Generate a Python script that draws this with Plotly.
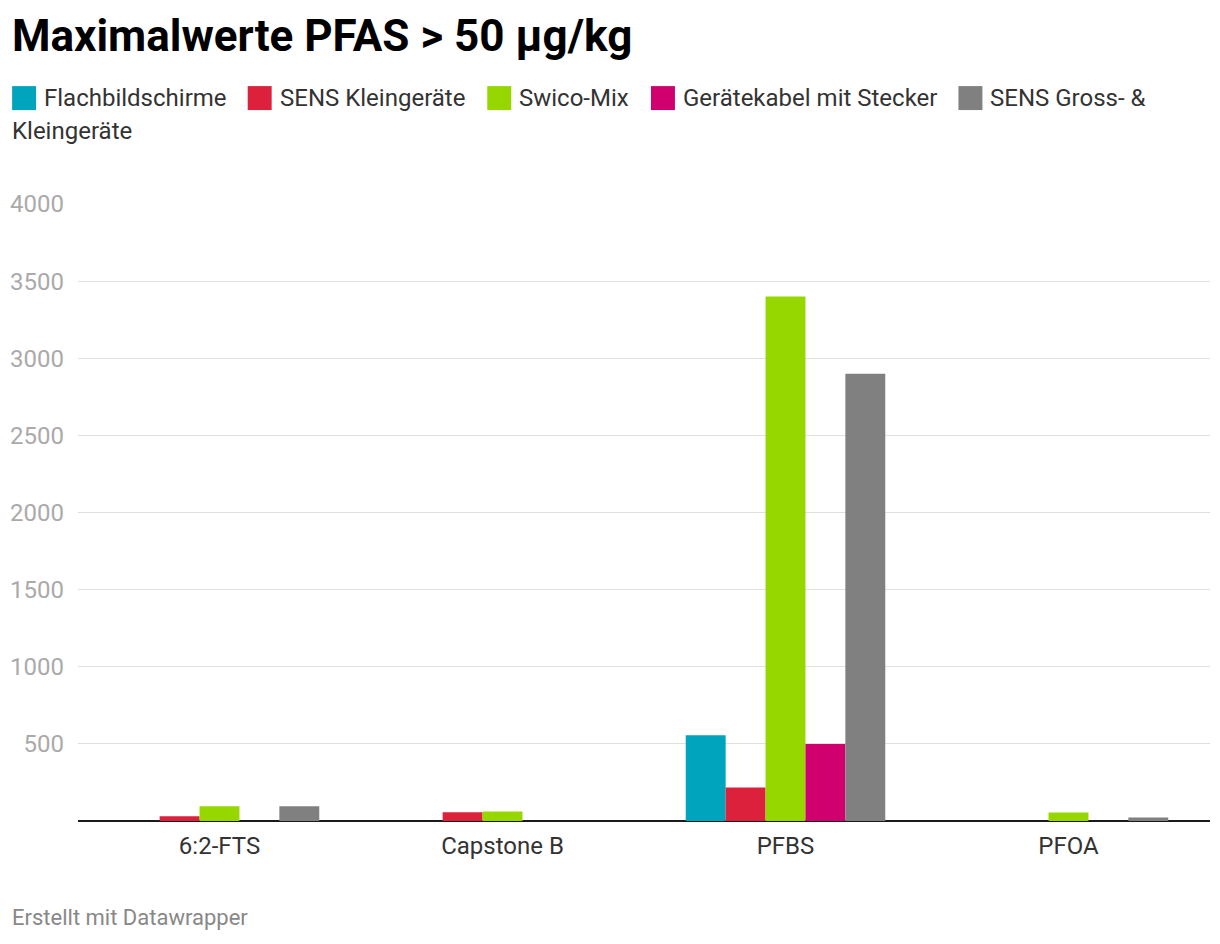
import plotly.graph_objects as go

categories = ["6:2-FTS", "Capstone B", "PFBS", "PFOA"]
series_names = ["Flachbildschirme", "SENS Kleingeräte", "Swico-Mix",
                "Gerätekabel mit Stecker", "SENS Gross- & Kleingeräte"]
flachbildschirme = [None, None, 556, None]
sens_klein = [30, 57, 217, None]
swico_mix = [95, 62, 3400, 55]
geraetekabel = [None, None, 500, None]
sens_gross_klein = [95, None, 2900, 23]
series_values = [flachbildschirme, sens_klein, swico_mix, geraetekabel, sens_gross_klein]
colors = ["#00a5bd", "#db213c", "#96d700", "#d1006f", "#808080"]
y_ticks = [500, 1000, 1500, 2000, 2500, 3000, 3500, 4000]

FONT = "Roboto"

fig = go.Figure()
for name, vals, col in zip(series_names, series_values, colors):
    fig.add_trace(go.Bar(x=categories, y=vals, name=name, marker_color=col,
                         marker_line_width=0, showlegend=False))

fig.update_layout(
    width=1220, height=944,
    margin=dict(l=76, r=10, t=204, b=122.5),
    paper_bgcolor="white", plot_bgcolor="white",
    barmode="group", bargap=0.295, bargroupgap=0,
    font=dict(family=FONT, size=24, color="#333333"),
    xaxis=dict(showgrid=False, ticks="", tickfont=dict(size=24, color="#333333"),
               showline=False, ticklabelstandoff=8),
    yaxis=dict(range=[0, 4000], tickvals=y_ticks, ticktext=[str(v) for v in y_ticks],
               showgrid=True, gridcolor="#e0e0e0", gridwidth=1,
               zeroline=True, zerolinecolor="#1a1a1a", zerolinewidth=2,
               tickfont=dict(size=24, color="#aaaaaa"), ticklabelstandoff=13,
               fixedrange=True),
    showlegend=False,
)

def fx(x):
    return (x - 76) / 1134

def fy(y):
    return (821.5 - y) / 617.5

# title
fig.add_annotation(text="<b>Maximalwerte PFAS > 50 µg/kg</b>", xref="paper", yref="paper",
                   x=fx(8), y=fy(36), xanchor="left", yanchor="middle", showarrow=False,
                   font=dict(family=FONT, size=44, color="#000000"))

# manual legend
legend_x = [10, 246, 486, 650, 958]
legend_labels = ["Flachbildschirme", "SENS Kleingeräte", "Swico-Mix",
                 "Gerätekabel mit Stecker", "SENS Gross- &"]
for lx, lab, col in zip(legend_x, legend_labels, colors):
    fig.add_shape(type="rect", xref="paper", yref="paper",
                  x0=fx(lx), x1=fx(lx + 24), y0=fy(86), y1=fy(110),
                  fillcolor=col, line_width=0)
    fig.add_annotation(text=lab, xref="paper", yref="paper",
                       x=fx(lx + 30), y=fy(98),
                       xanchor="left", yanchor="middle", showarrow=False,
                       font=dict(family=FONT, size=24, color="#333333"))
fig.add_annotation(text="Kleingeräte", xref="paper", yref="paper",
                   x=fx(8), y=fy(131),
                   xanchor="left", yanchor="middle", showarrow=False,
                   font=dict(family=FONT, size=24, color="#333333"))

# footer
fig.add_annotation(text="Erstellt mit Datawrapper", xref="paper", yref="paper",
                   x=fx(8), y=fy(918),
                   xanchor="left", yanchor="middle", showarrow=False,
                   font=dict(family=FONT, size=22, color="#888888"))

fig.write_html("out.html")
